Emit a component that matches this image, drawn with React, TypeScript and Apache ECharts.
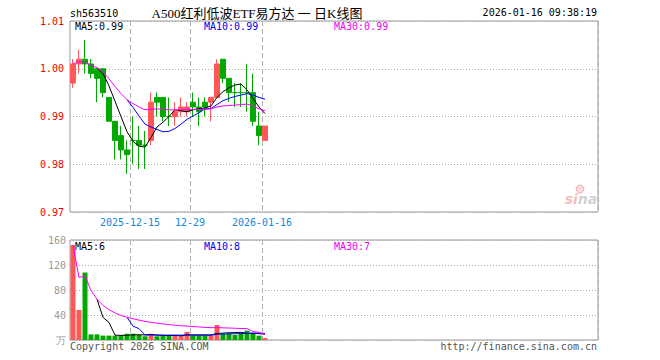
import { useEffect, useRef } from 'react';
import * as echarts from 'echarts';

const dates = [
  '2025-12-01', '2025-12-02', '2025-12-03', '2025-12-04', '2025-12-05',
  '2025-12-08', '2025-12-09', '2025-12-10', '2025-12-11', '2025-12-12',
  '2025-12-15', '2025-12-16', '2025-12-17', '2025-12-18', '2025-12-19',
  '2025-12-22', '2025-12-23', '2025-12-24', '2025-12-25', '2025-12-26',
  '2025-12-29', '2025-12-30', '2025-12-31',
  '2026-01-05', '2026-01-06', '2026-01-07', '2026-01-08', '2026-01-09',
  '2026-01-12', '2026-01-13', '2026-01-14', '2026-01-15', '2026-01-16',
];
const opens = [0.997, 1.001, 1.002, 1.001, 1.000, 1.000, 0.994, 0.989, 0.986, 0.983, 0.985, 0.985, 0.984, 0.985, 0.994, 0.994, 0.990, 0.990, 0.991, 0.991, 0.993, 0.992, 0.993, 0.993, 0.994, 1.002, 0.998, 0.995, 0.995, 0.995, 0.995, 0.988, 0.985];
const closes = [1.001, 1.002, 1.001, 0.999, 0.998, 0.995, 0.989, 0.985, 0.983, 0.982, 0.985, 0.984, 0.984, 0.993, 0.993, 0.990, 0.990, 0.991, 0.992, 0.992, 0.992, 0.991, 0.992, 0.994, 1.001, 0.998, 0.995, 0.995, 0.995, 0.995, 0.989, 0.986, 0.988];
const lows = [0.996, 0.999, 0.999, 0.998, 0.993, 0.994, 0.989, 0.981, 0.981, 0.978, 0.980, 0.979, 0.979, 0.984, 0.990, 0.989, 0.988, 0.988, 0.990, 0.990, 0.990, 0.988, 0.990, 0.989, 0.994, 0.997, 0.993, 0.992, 0.992, 0.991, 0.988, 0.984, 0.985];
const highs = [1.002, 1.004, 1.006, 1.002, 1.000, 1.000, 0.994, 0.989, 0.988, 0.985, 0.990, 0.988, 0.987, 0.995, 0.995, 0.994, 0.994, 0.993, 0.994, 0.993, 0.995, 0.994, 0.994, 0.994, 1.002, 1.002, 0.998, 0.997, 0.997, 1.001, 0.999, 0.991, 0.988];

const ma5 = ['-', '-', '-', '-', 1.0002, 0.9990, 0.9964, 0.9932, 0.9900, 0.9868, 0.9848, 0.9838, 0.9836, 0.9856, 0.9878, 0.9888, 0.9900, 0.9914, 0.9912, 0.9910, 0.9914, 0.9916, 0.9918, 0.9922, 0.9940, 0.9952, 0.9960, 0.9966, 0.9968, 0.9956, 0.9938, 0.9920, 0.9906];
const ma10 = ['-', '-', '-', '-', '-', '-', '-', '-', '-', 0.9935, 0.9919, 0.9901, 0.9884, 0.9878, 0.9873, 0.9868, 0.9869, 0.9875, 0.9884, 0.9894, 0.9901, 0.9908, 0.9916, 0.9917, 0.9925, 0.9933, 0.9938, 0.9942, 0.9945, 0.9948, 0.9945, 0.9940, 0.9936];
const ma30 = [1.0010, 1.0015, 1.0013, 1.0008, 1.0002, 0.9993, 0.9979, 0.9963, 0.9948, 0.9935, 0.9927, 0.9920, 0.9914, 0.9915, 0.9916, 0.9915, 0.9914, 0.9914, 0.9914, 0.9915, 0.9915, 0.9915, 0.9915, 0.9916, 0.9920, 0.9922, 0.9923, 0.9924, 0.9925, 0.9926, 0.9922, 0.9916, 0.9912];

const volumes = [152, 48, 108, 9, 9, 7, 7, 7, 7, 10, 10, 8, 6, 10, 6, 7, 7, 7, 7, 13, 7, 7, 7, 7, 24, 10, 10, 8, 10, 15, 11, 7, 3];
const vma5 = ['-', '-', '-', '-', 65.2, 36.2, 28, 7.8, 7.4, 7.6, 8.2, 8.4, 8.2, 8.8, 8, 7.4, 7.2, 7.4, 6.8, 8.2, 8.2, 8.2, 8.2, 8.2, 10.4, 11, 11.6, 11.8, 12.4, 10.6, 10.8, 10.2, 9.2];
const vma10 = ['-', '-', '-', '-', '-', '-', '-', '-', '-', 36.4, 22.2, 18.2, 8, 8.1, 7.8, 7.8, 7.8, 7.8, 7.8, 8.1, 7.8, 7.7, 7.8, 7.5, 9.3, 9.6, 9.9, 10, 10.3, 10.5, 10.9, 10.9, 10.5];
const vma30 = [152, 100, 102.7, 79.3, 65.2, 55.5, 48.6, 43.4, 39.3, 36.4, 34, 31.8, 29.8, 28.4, 26.9, 25.7, 24.6, 23.6, 22.7, 22.3, 21.5, 20.9, 20.3, 19.7, 19.9, 19.5, 19.2, 18.8, 18.4, 18.3, 13.6, 12.3, 8.8];

const tickIndexes = [10, 20, 32];
const tickLabels = ['2025-12-15', '12-29', '2026-01-16'];
const priceMin = 0.97;
const priceMax = 1.01;
const priceStep = 0.01;
const volMax = 160;
const volStep = 40;
const totalSlots = 88;

const headerTexts = {
  code: 'sh563510',
  title: 'A500红利低波ETF易方达 一 日K线图',
  time: '2026-01-16 09:38:19',
  ma5: 'MA5:0.99',
  ma10: 'MA10:0.99',
  ma30: 'MA30:0.99',
  vma5: 'MA5:6',
  vma10: 'MA10:8',
  vma30: 'MA30:7',
  copyright: 'Copyright 2026 SINA.COM',
  url: 'http://finance.sina.com.cn',
};

const RED = '#ff5757';
const GREEN = '#00a800';
const MONO = '"DejaVu Sans Mono", monospace';

export default function App() {
  const ref = useRef<HTMLDivElement>(null);

  useEffect(() => {
    document.body.style.margin = '0';
    if (!ref.current) return;
    const chart = echarts.init(ref.current, undefined, { renderer: 'svg' });

    const categories = dates.concat(
      Array.from({ length: totalSlots - dates.length }, (_, i) => `_${i}`)
    );
    const isTick = (idx: number) => tickIndexes.indexOf(idx) >= 0;

    const candleData = dates.map((_, i) => {
      const up = closes[i] > opens[i];
      const c = up ? RED : GREEN;
      return {
        value: [opens[i], closes[i], lows[i], highs[i]],
        itemStyle: { color: c, color0: c, borderColor: c, borderColor0: c, borderWidth: 1 },
      };
    });
    const volData = volumes.map((v, i) => ({
      value: v,
      itemStyle: { color: closes[i] > opens[i] ? RED : GREEN },
    }));

    const lineSeries = (name: string, data: any[], color: string, xi: number) => ({
      name,
      type: 'line',
      xAxisIndex: xi,
      yAxisIndex: xi,
      data,
      symbol: 'none',
      connectNulls: false,
      lineStyle: { color, width: 1 },
      itemStyle: { color },
      silent: true,
    });

    const text = (t: string, x: number, y: number, fill: string, align = 'left', font = `10px ${MONO}`) => ({
      type: 'text',
      x,
      y,
      silent: true,
      style: {
        text: t,
        fill,
        font,
        textAlign: align,
        align,
        textVerticalAlign: 'middle',
        verticalAlign: 'middle',
      },
    });

    const xAxisCommon = {
      type: 'category',
      data: categories,
      boundaryGap: true,
      axisLine: { show: false },
      axisTick: { show: false },
      splitLine: {
        show: true,
        interval: (idx: number) => isTick(idx),
        lineStyle: { color: '#b0b0b0', type: [5, 3], width: 1 },
      },
    };

    chart.setOption({
      animation: false,
      backgroundColor: '#ffffff',
      grid: [
        { left: 70, top: 21, width: 528, height: 191, show: true, borderColor: '#999', borderWidth: 1, backgroundColor: 'transparent' },
        { left: 70, top: 240, width: 528, height: 100, show: true, borderColor: '#999', borderWidth: 1, backgroundColor: 'transparent' },
      ],
      xAxis: [
        {
          ...xAxisCommon,
          gridIndex: 0,
          axisLabel: {
            show: true,
            interval: (idx: number) => isTick(idx),
            formatter: (_v: string, idx: number) => {
              const k = tickIndexes.indexOf(idx);
              return k >= 0 ? tickLabels[k] : '';
            },
            color: '#1088dd',
            fontFamily: MONO,
            fontSize: 10,
            margin: 5,
            padding: [0, 6, 0, 0],
          },
        },
        {
          ...xAxisCommon,
          gridIndex: 1,
          axisLabel: { show: false },
        },
      ],
      yAxis: [
        {
          type: 'value',
          gridIndex: 0,
          min: priceMin,
          max: priceMax,
          interval: priceStep,
          axisLine: { show: false },
          axisTick: { show: false },
          axisLabel: {
            color: '#ee0000',
            fontFamily: MONO,
            fontSize: 10,
            margin: 6,
            formatter: (v: number) => v.toFixed(2),
          },
          splitLine: { show: true, lineStyle: { color: '#aaa', type: [1, 2], width: 1 } },
        },
        {
          type: 'value',
          gridIndex: 1,
          min: 0,
          max: volMax,
          interval: volStep,
          axisLine: { show: false },
          axisTick: { show: false },
          axisLabel: {
            color: '#999',
            fontFamily: MONO,
            fontSize: 10,
            margin: 4,
            formatter: (v: number) => (v === 0 ? '万' : String(v)),
          },
          splitLine: { show: true, lineStyle: { color: '#aaa', type: [1, 2], width: 1 } },
        },
      ],
      series: [
        {
          name: 'K',
          type: 'candlestick',
          xAxisIndex: 0,
          yAxisIndex: 0,
          data: candleData,
          barWidth: 5,
          silent: true,
        },
        lineSeries('MA5', ma5, '#000000', 0),
        lineSeries('MA10', ma10, '#0000ff', 0),
        lineSeries('MA30', ma30, '#ff00ff', 0),
        {
          name: 'VOL',
          type: 'bar',
          xAxisIndex: 1,
          yAxisIndex: 1,
          data: volData,
          barWidth: 5,
          silent: true,
        },
        lineSeries('VMA5', vma5, '#000000', 1),
        lineSeries('VMA10', vma10, '#0000ff', 1),
        lineSeries('VMA30', vma30, '#ff00ff', 1),
      ],
      graphic: [
        text(headerTexts.code, 70, 13, '#000'),
        text(headerTexts.title, 257, 13, '#000', 'center', '13px "Liberation Serif", "Noto Sans CJK SC", serif'),
        text(headerTexts.time, 597, 12, '#000', 'right'),
        text(headerTexts.ma5, 75, 26, '#000'),
        text(headerTexts.ma10, 204, 26, '#0000ee'),
        text(headerTexts.ma30, 334, 26, '#ee00ee'),
        text(headerTexts.vma5, 75, 246, '#000'),
        text(headerTexts.vma10, 204, 246, '#0000ee'),
        text(headerTexts.vma30, 334, 246, '#ee00ee'),
        text(headerTexts.copyright, 70, 346, '#555'),
        text(headerTexts.url, 597, 346, '#555', 'right'),
        {
          type: 'circle',
          silent: true,
          shape: { cx: 580, cy: 189, r: 4 },
          style: { fill: 'rgba(240,150,150,0.35)', stroke: 'rgba(235,120,120,0.5)', lineWidth: 1 },
        },
        {
          type: 'text',
          x: 581,
          y: 199,
          silent: true,
          style: {
            text: '{a|si}{b|na}',
            textAlign: 'center',
            align: 'center',
            textVerticalAlign: 'middle',
            verticalAlign: 'middle',
            rich: {
              a: { fill: 'rgba(235,110,110,0.45)', font: 'italic bold 14px "DejaVu Sans", sans-serif' },
              b: { fill: 'rgba(150,150,150,0.45)', font: 'italic bold 14px "DejaVu Sans", sans-serif' },
            },
          },
        },
      ],
    });

    return () => chart.dispose();
  }, []);

  return <div ref={ref} style={{ width: 660, height: 360 }} />;
}
